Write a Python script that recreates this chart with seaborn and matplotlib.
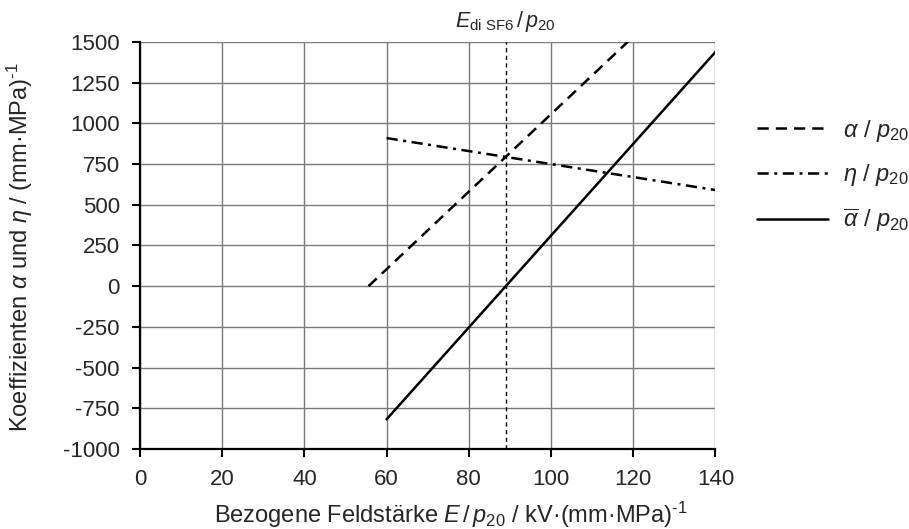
import matplotlib
matplotlib.use("Agg")
import matplotlib.pyplot as plt
import seaborn as sns
import pandas as pd

# Data
alpha_x = [55.6, 118.7]
alpha_y = [0, 1500]
eta_x = [60, 140]
eta_y = [909, 590]
alphabar_x = [60, 140]
alphabar_y = [-817, 1437]
e_di = 89
x_ticks = [0, 20, 40, 60, 80, 100, 120, 140]
y_ticks = [-1000, -750, -500, -250, 0, 250, 500, 750, 1000, 1250, 1500]

sns.set_theme(style="white")
plt.rcParams['font.family'] = ['Liberation Sans', 'DejaVu Sans']
plt.rcParams['mathtext.fontset'] = 'custom'
plt.rcParams['mathtext.rm'] = 'Liberation Sans'
plt.rcParams['mathtext.it'] = 'Liberation Sans:italic'
plt.rcParams['mathtext.bf'] = 'Liberation Sans:bold'
plt.rcParams['axes.unicode_minus'] = False

fig = plt.figure(figsize=(9.09, 5.29), dpi=100)
ax = fig.add_axes([0.154, 0.151, 0.633, 0.770])

df_a = pd.DataFrame({"x": alpha_x, "y": alpha_y})
df_e = pd.DataFrame({"x": eta_x, "y": eta_y})
df_b = pd.DataFrame({"x": alphabar_x, "y": alphabar_y})

sns.lineplot(data=df_a, x="x", y="y", ax=ax, color="black", lw=1.8,
             label=r"$\alpha$ / $p_{20}$")
ax.lines[-1].set_dashes([4.5, 2.8])
sns.lineplot(data=df_e, x="x", y="y", ax=ax, color="black", lw=1.8,
             label=r"$\eta$ / $p_{20}$")
ax.lines[-1].set_dashes([4.5, 2.2, 1.2, 2.2])
sns.lineplot(data=df_b, x="x", y="y", ax=ax, color="black", lw=1.8,
             label=r"$\overline{\alpha}$ / $p_{20}$")

ax.axvline(e_di, color="black", lw=1.0, dashes=(3, 2.5), zorder=1)
ax.text(e_di, 1545, r"$E_{\mathrm{di\ SF6}}\,/\,p_{20}$", ha="center", va="bottom", fontsize=15.5)

ax.set_xlim(0, 140)
ax.set_ylim(-1000, 1500)
ax.set_xticks(x_ticks)
ax.set_yticks(y_ticks)
ax.grid(True, color="#7a7a7a", lw=1.0)
ax.set_axisbelow(True)
for s in ["top", "right"]:
    ax.spines[s].set_visible(False)
for s in ["left", "bottom"]:
    ax.spines[s].set_color("black")
    ax.spines[s].set_linewidth(1.6)
ax.tick_params(axis="both", which="major", direction="out", length=5.5, width=1.5,
               color="black", labelsize=16, left=True, bottom=True, pad=9)

ax.set_xlabel(r"Bezogene Feldstärke $E\,/\,p_{20}$ / kV·(mm·MPa)$^{\text{-1}}$", fontsize=17)
ax.set_ylabel(r"Koeffizienten $\alpha$ und $\eta$ / (mm·MPa)$^{\text{-1}}$", fontsize=17)
ax.xaxis.set_label_coords(0.54, -0.125)
ax.yaxis.set_label_coords(-0.182, 0.495)

leg = ax.legend(loc="upper left", bbox_to_anchor=(1.035, 0.866), frameon=False,
                fontsize=17, handlelength=3.0, labelspacing=0.78, handletextpad=0.65)

fig.savefig("out.png", dpi=100)
